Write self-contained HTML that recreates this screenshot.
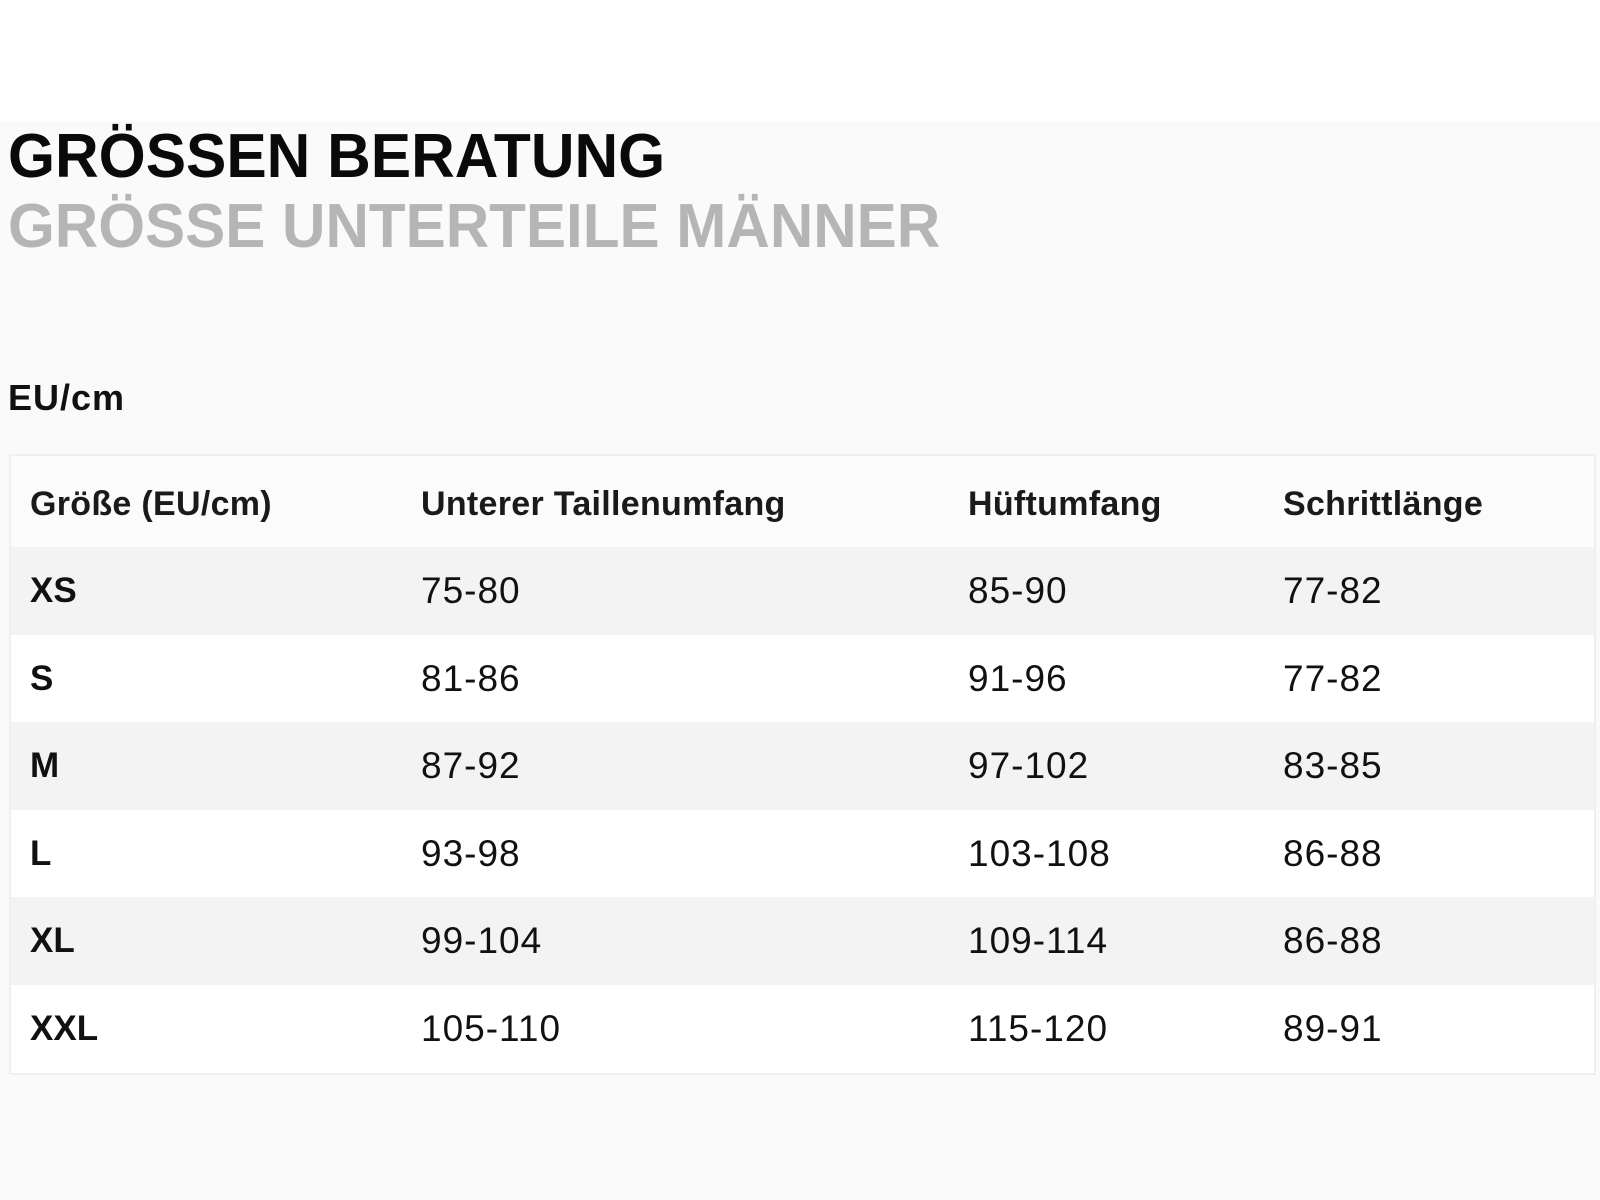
<!DOCTYPE html>
<html><head><meta charset="utf-8"><style>
html,body{margin:0;padding:0;}
body{width:1600px;height:1200px;position:relative;background:#fff;font-family:"Liberation Sans",Arial,sans-serif;overflow:hidden;}
.band{position:absolute;left:0;top:121px;width:1600px;height:1079px;background:#fafafa;}
.t1{position:absolute;left:8px;top:122px;font-size:62px;font-weight:bold;color:#0a0a0a;line-height:70px;white-space:nowrap;transform:scaleX(0.975);transform-origin:0 0;}
.t2{position:absolute;left:8px;top:192px;font-size:62px;font-weight:bold;color:#b5b5b5;line-height:70px;white-space:nowrap;transform:scaleX(0.97);transform-origin:0 0;}
.eu{position:absolute;left:8px;top:378px;font-size:36px;font-weight:bold;letter-spacing:1px;color:#111;line-height:40px;}
.tbl{position:absolute;left:9px;top:454px;width:1583px;height:617px;background:#fbfbfb;border:2px solid #efefef;}
.row{position:absolute;left:0;width:1583px;height:88px;}
.row.g{background:#f3f3f3;}
.row.w{background:#fff;}
.c{position:absolute;top:0;line-height:88px;font-size:37px;letter-spacing:1px;color:#111;white-space:nowrap;}
.h .c{font-weight:bold;color:#1a1a1a;font-size:34px;letter-spacing:0.3px;}
.b{font-weight:bold;font-size:35px;letter-spacing:0;}
</style></head><body>
<div class="band"></div>
<div class="t1">GRÖSSEN BERATUNG</div>
<div class="t2">GRÖSSE UNTERTEILE MÄNNER</div>
<div class="eu">EU/cm</div>
<div class="tbl">
<div class="row h" style="top:0;height:91px"><span class="c" style="left:19px;line-height:96px">Größe (EU/cm)</span><span class="c" style="left:410px;line-height:96px">Unterer Taillenumfang</span><span class="c" style="left:957px;line-height:96px">Hüftumfang</span><span class="c" style="left:1272px;line-height:96px">Schrittlänge</span></div>
<div class="row g" style="top:91px"><span class="c b" style="left:19px">XS</span><span class="c" style="left:410px">75-80</span><span class="c" style="left:957px">85-90</span><span class="c" style="left:1272px">77-82</span></div>
<div class="row w" style="top:178.5px"><span class="c b" style="left:19px">S</span><span class="c" style="left:410px">81-86</span><span class="c" style="left:957px">91-96</span><span class="c" style="left:1272px">77-82</span></div>
<div class="row g" style="top:266px"><span class="c b" style="left:19px">M</span><span class="c" style="left:410px">87-92</span><span class="c" style="left:957px">97-102</span><span class="c" style="left:1272px">83-85</span></div>
<div class="row w" style="top:353.5px"><span class="c b" style="left:19px">L</span><span class="c" style="left:410px">93-98</span><span class="c" style="left:957px">103-108</span><span class="c" style="left:1272px">86-88</span></div>
<div class="row g" style="top:441px"><span class="c b" style="left:19px">XL</span><span class="c" style="left:410px">99-104</span><span class="c" style="left:957px">109-114</span><span class="c" style="left:1272px">86-88</span></div>
<div class="row w" style="top:528.5px"><span class="c b" style="left:19px">XXL</span><span class="c" style="left:410px">105-110</span><span class="c" style="left:957px">115-120</span><span class="c" style="left:1272px">89-91</span></div>
</div>
</body></html>
